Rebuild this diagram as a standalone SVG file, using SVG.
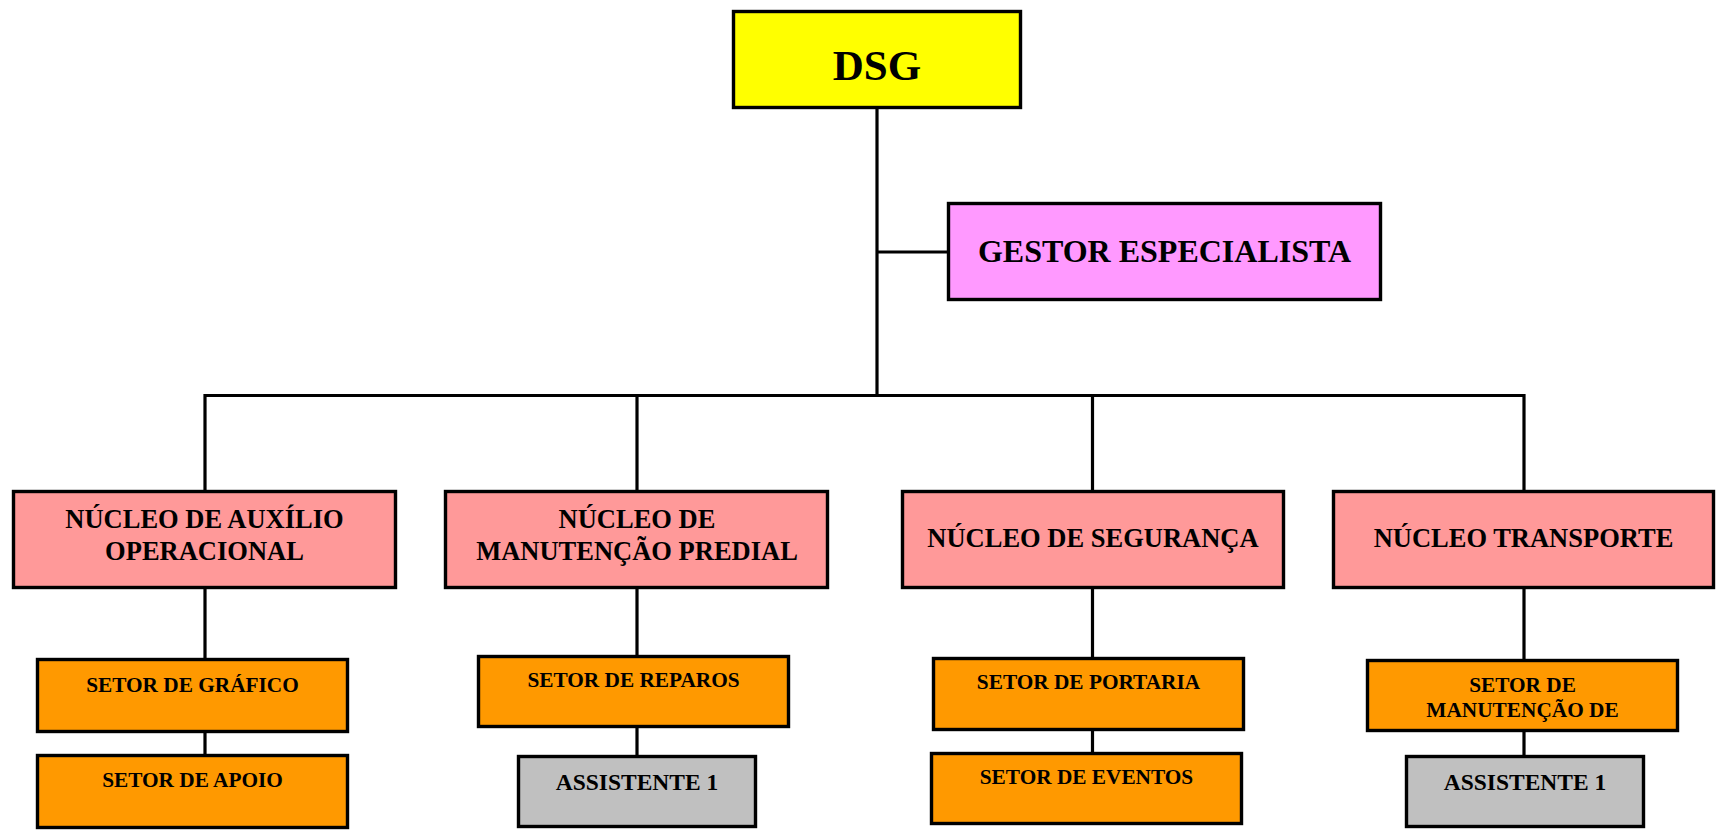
<svg xmlns="http://www.w3.org/2000/svg" width="1716" height="831" viewBox="0 0 1716 831">
<style>
.b{stroke:#000;stroke-width:3.4}
text{font-family:"Liberation Serif","Times New Roman",serif;font-weight:bold;fill:#000;text-anchor:middle}
.c{fill:none;stroke:#000;stroke-width:3.2;stroke-linejoin:miter;stroke-linecap:butt}
.y{fill:#FFFF00}.p{fill:#FF99FF}.s{fill:#FF9999}.o{fill:#FF9900}.g{fill:#C0C0C0}
.f2{font-size:26.5px}.f3{font-size:21.3px}.f4{font-size:23.5px}
</style>
<rect width="1716" height="831" fill="#fff"/>
<g id="connectors">
<path class="c" d="M877,109 V396"/>
<path class="c" d="M877,252 H947"/>
<path class="c" d="M205,490 V395.5 H1524 V490"/>
<path class="c" d="M637,395.5 V490"/>
<path class="c" d="M1092.5,395.5 V490"/>
<path class="c" d="M205,589 V658 M205,733 V754"/>
<path class="c" d="M637,589 V655 M637,728 V755"/>
<path class="c" d="M1092.5,589 V657 M1092.5,731 V752"/>
<path class="c" d="M1524,589 V659 M1524,732 V755"/>
</g>
<g id="dsg"><rect class="b y" x="733.5" y="11.5" width="287" height="96"/><text x="877" y="80" style="font-size:43px">DSG</text></g>
<g id="gestor"><rect class="b p" x="948.5" y="203.5" width="432" height="96"/><text x="1164.5" y="262" style="font-size:32px">GESTOR ESPECIALISTA</text></g>
<g id="nucleo-auxilio"><rect class="b s" x="13.5" y="491.5" width="382" height="96"/><text class="f2" x="204.5" y="528">NÚCLEO DE AUXÍLIO</text><text class="f2" x="204.5" y="560">OPERACIONAL</text></g>
<g id="nucleo-manutencao"><rect class="b s" x="445.5" y="491.5" width="382" height="96"/><text class="f2" x="637" y="528">NÚCLEO DE</text><text class="f2" x="637" y="560">MANUTENÇÃO PREDIAL</text></g>
<g id="nucleo-seguranca"><rect class="b s" x="902.5" y="491.5" width="381" height="96"/><text class="f2" x="1093" y="547">NÚCLEO DE SEGURANÇA</text></g>
<g id="nucleo-transporte"><rect class="b s" x="1333.5" y="491.5" width="380" height="96"/><text class="f2" x="1523.5" y="547">NÚCLEO TRANSPORTE</text></g>
<g id="setor-grafico"><rect class="b o" x="37.5" y="659.5" width="310" height="72"/><text class="f3" x="192.5" y="692">SETOR DE GRÁFICO</text></g>
<g id="setor-apoio"><rect class="b o" x="37.5" y="755.5" width="310" height="72"/><text class="f3" x="192.5" y="787">SETOR DE APOIO</text></g>
<g id="setor-reparos"><rect class="b o" x="478.5" y="656.5" width="310" height="70"/><text class="f3" x="633.5" y="687">SETOR DE REPAROS</text></g>
<g id="assistente-1a"><rect class="b g" x="518.5" y="756.5" width="237" height="70"/><text class="f4" x="637" y="790">ASSISTENTE 1</text></g>
<g id="setor-portaria"><rect class="b o" x="933.5" y="658.5" width="310" height="71"/><text class="f3" x="1088.5" y="689">SETOR DE PORTARIA</text></g>
<g id="setor-eventos"><rect class="b o" x="931.5" y="753.5" width="310" height="70"/><text class="f3" x="1086.5" y="784">SETOR DE EVENTOS</text></g>
<g id="setor-manutencao"><rect class="b o" x="1367.5" y="660.5" width="310" height="70"/><text class="f3" x="1522.5" y="692">SETOR DE</text><text class="f3" x="1522.5" y="717">MANUTENÇÃO DE</text></g>
<g id="assistente-1b"><rect class="b g" x="1406.5" y="756.5" width="237" height="70"/><text class="f4" x="1525" y="790">ASSISTENTE 1</text></g>
</svg>
